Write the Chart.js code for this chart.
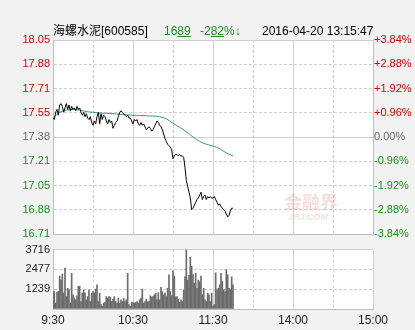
<!DOCTYPE html>
<html>
<head>
<meta charset="utf-8">
<script src="https://cdn.jsdelivr.net/npm/chart.js@4.4.0/dist/chart.umd.min.js"></script>
<style>
html, body { margin: 0; padding: 0; background: #f3f2f2; }
#wrap { position: relative; width: 415px; height: 330px; overflow: hidden;
        font-family: "Liberation Sans", Arial, "Noto Sans CJK SC", sans-serif; font-size: 12px; }
#cPrice { position: absolute; left: 0; top: 0; }
#cVol { position: absolute; left: 0; top: 240px; }
.t { position: absolute; top: 24px; white-space: nowrap; line-height: 14px; }
.g { color: #1e8c1e; }
.wm { position: absolute; color: rgba(225, 160, 160, 0.35); font-weight: bold; pointer-events: none; }
</style>
</head>
<body>
<div id="wrap">
    <canvas id="cPrice" width="415" height="244"></canvas>
    <canvas id="cVol" width="415" height="90"></canvas>
    <div class="t" style="left:53px;">海螺水泥[600585]</div>
    <div class="t g" style="left:164px;">16<u>89</u></div>
    <div class="t g" style="left:200px;">-2<u>82</u>%↓</div>
    <div class="t" style="left:262px;">2016-04-20 13:15:47</div>
    <div class="wm" style="left:284px;top:188px;font-size:18px;">金融界</div>
    <div class="wm" style="left:288px;top:212px;font-size:9px;font-style:italic;">JRJ.COM</div>
</div>
<script>
const preClose = 17.38;
const priceTickValues = [16.7126, 16.8795, 17.0463, 17.2132, 17.38, 17.5468, 17.7137, 17.8805, 18.0474];
const priceTickLabels = ['16.71', '16.88', '17.05', '17.21', '17.38', '17.55', '17.71', '17.88', '18.05'];
const pctTickLabels = ['-3.84%', '-2.88%', '-1.92%', '-0.96%', '0.00%', '+0.96%', '+1.92%', '+2.88%', '+3.84%'];
const timeTickValues = [0, 30, 60, 90, 120, 150, 180, 210, 240];
const timeTickLabels = ['9:30', '', '10:30', '', '11:30', '', '14:00', '', '15:00'];
const volTickValues = [0, 1239, 2477, 3716];
const volTickLabels = ['', '1239', '2477', '3716'];

// one value per minute, 9:30 .. 11:30 then 13:01 .. 13:15
const prices = [
    17.51, 17.50, 17.55, 17.57, 17.53, 17.60, 17.61, 17.59, 17.55, 17.58,
    17.61, 17.57, 17.60, 17.56, 17.59, 17.57, 17.58, 17.56, 17.59, 17.57,
    17.58, 17.55, 17.53, 17.55, 17.52, 17.54, 17.51, 17.50, 17.52, 17.48,
    17.46, 17.49, 17.47, 17.52, 17.55, 17.47, 17.54, 17.50, 17.53, 17.52,
    17.49, 17.47, 17.50, 17.48, 17.49, 17.44, 17.46, 17.48, 17.49, 17.52,
    17.55, 17.56, 17.55, 17.54, 17.53, 17.52, 17.53, 17.51, 17.51, 17.49,
    17.47, 17.50, 17.49, 17.50, 17.47, 17.46, 17.48, 17.46, 17.47, 17.45,
    17.43, 17.44, 17.45, 17.44, 17.42, 17.43, 17.45, 17.47, 17.49, 17.48,
    17.46, 17.45, 17.43, 17.40, 17.37, 17.35, 17.33, 17.32, 17.31, 17.29,
    17.23, 17.25, 17.26, 17.26, 17.25, 17.26, 17.25, 17.25, 17.24, 17.17,
    17.08, 17.04, 17.00, 16.96, 16.88, 16.89, 16.91, 16.93, 16.95, 16.96,
    16.98, 17.00, 16.95, 16.97, 16.98, 16.95, 16.97, 16.96, 16.97, 16.96,
    16.96, 16.97, 16.95, 16.93, 16.91, 16.92, 16.90, 16.89, 16.88, 16.87,
    16.85, 16.83, 16.84, 16.87, 16.89, 16.89
];

const avgMinutes = [0, 5, 10, 15, 20, 25, 30, 35, 40, 45, 50, 55, 60, 65, 70, 75, 80, 85, 90, 95, 100, 105, 110, 115, 120, 125, 130, 135];
const avgPrices = [
    17.51, 17.55, 17.565, 17.57, 17.565, 17.555, 17.55, 17.545, 17.543, 17.54,
    17.537, 17.533, 17.53, 17.528, 17.526, 17.524, 17.52, 17.505, 17.474, 17.447,
    17.416, 17.38, 17.35, 17.33, 17.318, 17.30, 17.27, 17.25
];

const volumes = [
    1070, 1090, 370, 1050, 1090, 2060, 1810, 2190, 1000, 2560,
    780, 1300, 1200, 370, 2230, 890, 680, 580, 820, 1400,
    1440, 470, 990, 1200, 990, 580, 780, 1200, 470, 990,
    1090, 990, 1240, 1510, 470, 990, 270, 170, 370, 410,
    780, 680, 780, 740, 470, 620, 780, 470, 370, 680,
    370, 580, 470, 680, 470, 580, 2230, 270, 170, 410,
    410, 370, 410, 470, 370, 580, 680, 1240, 370, 470,
    620, 470, 470, 830, 740, 780, 890, 990, 580, 1030,
    580, 1360, 1090, 890, 990, 780, 1300, 2130, 1090, 830,
    2390, 2060, 780, 780, 620, 410, 580, 470, 1200, 2020,
    3716, 1810, 2100, 3240, 2680, 2160, 1610, 2230, 1300, 1810,
    1700, 2060, 880, 1300, 580, 470, 990, 890, 470, 990,
    170, 270, 2270, 1200, 1300, 1510, 2230, 1710, 1200, 1090,
    2470, 2130, 1300, 1200, 2020, 1510
];

const RED = '#d40000';
const GREEN = '#1e8c1e';
const GRAY = '#666666';
const GRID = '#cfcfcf';
const FRAME = '#bdbdbd';
const tickFont = { family: '"Liberation Sans", Arial, sans-serif', size: 11 };

const plotBg = {
    id: 'plotBg',
    beforeDraw(chart) {
        const { ctx, chartArea: a } = chart;
        ctx.save();
        ctx.fillStyle = '#ffffff';
        ctx.fillRect(a.left, a.top, a.right - a.left, a.bottom - a.top);
        ctx.restore();
    }
};

function priceColor(ctx) {
    const v = priceTickValues[ctx.index];
    if (Math.abs(v - preClose) < 0.001) return GRAY;
    return v > preClose ? RED : GREEN;
}

// dashed time lines on the half hours, solid on the hours
const timeBorder = {
    color: FRAME,
    dash: c => (c.tick && c.tick.value % 60 !== 0) ? [3, 2] : []
};

Chart.defaults.animation = false;
Chart.defaults.font.family = tickFont.family;

new Chart(document.getElementById('cPrice'), {
    type: 'line',
    data: {
        datasets: [
            {
                data: prices.map((p, i) => ({ x: i, y: p })),
                borderColor: '#000000',
                borderWidth: 1,
                pointRadius: 0,
                tension: 0,
                yAxisID: 'y'
            },
            {
                data: avgPrices.map((p, i) => ({ x: avgMinutes[i], y: p })),
                borderColor: '#3d9494',
                borderWidth: 1,
                pointRadius: 0,
                tension: 0.3,
                yAxisID: 'y'
            }
        ]
    },
    options: {
        responsive: false,
        events: [],
        layout: { padding: { top: 40, left: 0, right: 0, bottom: 0 } },
        plugins: { legend: { display: false }, tooltip: { enabled: false } },
        scales: {
            x: {
                type: 'linear', min: 0, max: 240,
                afterBuildTicks: s => { s.ticks = timeTickValues.map(v => ({ value: v })); },
                afterFit: s => { s.height = 10; },
                ticks: { display: false },
                grid: { color: GRID, drawTicks: false },
                border: timeBorder
            },
            y: {
                position: 'left', min: priceTickValues[0], max: priceTickValues[8],
                afterBuildTicks: s => { s.ticks = priceTickValues.map(v => ({ value: v })); },
                afterFit: s => { s.width = 53; },
                ticks: { font: tickFont, padding: 3, color: priceColor,
                         callback: (v, i) => priceTickLabels[i] },
                grid: { color: GRID, drawTicks: false },
                border: { color: FRAME, dash: c => (c.tick && ![0, 4, 8].includes(c.index)) ? [3, 2] : [] }
            },
            yPct: {
                position: 'right', min: priceTickValues[0], max: priceTickValues[8],
                afterBuildTicks: s => { s.ticks = priceTickValues.map(v => ({ value: v })); },
                afterFit: s => { s.width = 42; },
                ticks: { font: tickFont, padding: 1, color: priceColor,
                         callback: (v, i) => pctTickLabels[i] },
                grid: { display: false, drawTicks: false },
                border: { color: FRAME }
            }
        }
    },
    plugins: [plotBg]
});

new Chart(document.getElementById('cVol'), {
    type: 'bar',
    data: {
        datasets: [{
            data: volumes.map((v, i) => ({ x: i, y: v })),
            backgroundColor: '#6b6b6b',
            barThickness: 1
        }]
    },
    options: {
        responsive: false,
        events: [],
        layout: { padding: { top: 7, left: 0, right: 42, bottom: 0 } },
        plugins: { legend: { display: false }, tooltip: { enabled: false } },
        scales: {
            x: {
                type: 'linear', min: 0, max: 240, offset: false,
                afterBuildTicks: s => { s.ticks = timeTickValues.map(v => ({ value: v })); },
                afterFit: s => { s.height = 21; },
                ticks: { font: { family: tickFont.family, size: 12 }, color: '#222222', padding: 4,
                         maxRotation: 0, autoSkip: false,
                         callback: (v, i) => timeTickLabels[i] },
                grid: { color: GRID, drawTicks: false, offset: false },
                border: timeBorder
            },
            y: {
                position: 'left', min: 0, max: volTickValues[3],
                afterBuildTicks: s => { s.ticks = volTickValues.map(v => ({ value: v })); },
                afterFit: s => { s.width = 53; },
                ticks: { font: tickFont, padding: 3, color: '#222222',
                         callback: (v, i) => volTickLabels[i] },
                grid: { color: GRID, drawTicks: false },
                border: { color: FRAME, dash: c => (c.tick && c.index !== 0 && c.index !== 3) ? [3, 2] : [] }
            }
        }
    },
    plugins: [plotBg]
});
</script>
</body>
</html>
